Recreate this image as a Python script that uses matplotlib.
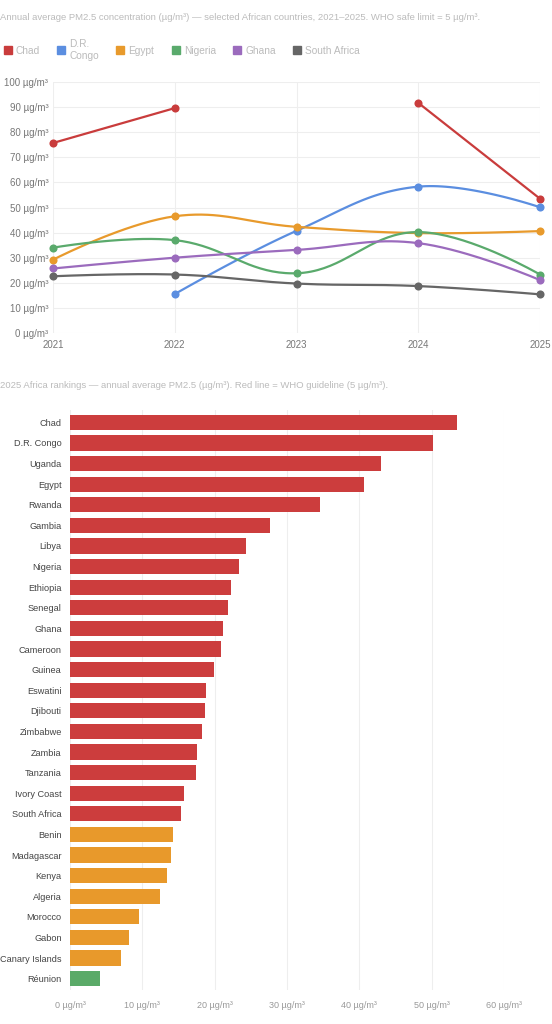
import matplotlib
matplotlib.use("Agg")
import matplotlib.pyplot as plt
import numpy as np
from matplotlib.lines import Line2D

plt.rcParams['font.family'] = ['Liberation Sans', 'DejaVu Sans']

years = [2021, 2022, 2023, 2024, 2025]
series_names = ["Chad", "D.R.\nCongo", "Egypt", "Nigeria", "Ghana", "South Africa"]
chad = [75.7, 89.6, None, 91.7, 53.5]
drc = [None, 15.5, 40.7, 58.3, 50.1]
egypt = [29.2, 46.5, 42.3, 39.8, 40.6]
nigeria = [34.0, 37.0, 23.8, 40.2, 23.3]
ghana = [25.7, 30.0, 33.1, 35.8, 21.1]
south_africa = [22.6, 23.3, 19.7, 18.7, 15.4]
series_colors = ["#c93c3c", "#5b8ee0", "#e89a2c", "#5aaa6c", "#9b6bbd", "#666666"]

countries = ["Chad", "D.R. Congo", "Uganda", "Egypt", "Rwanda", "Gambia", "Libya", "Nigeria",
             "Ethiopia", "Senegal", "Ghana", "Cameroon", "Guinea", "Eswatini", "Djibouti",
             "Zimbabwe", "Zambia", "Tanzania", "Ivory Coast", "South Africa", "Benin",
             "Madagascar", "Kenya", "Algeria", "Morocco", "Gabon", "Canary Islands", "Réunion"]
values_2025 = [53.5, 50.2, 43.0, 40.6, 34.5, 27.7, 24.4, 23.3, 22.3, 21.8, 21.2, 20.9, 19.9,
               18.8, 18.7, 18.3, 17.5, 17.4, 15.7, 15.4, 14.3, 13.9, 13.4, 12.4, 9.5, 8.2, 7.1, 4.2]

RED, ORANGE, GREEN = "#cc3d3d", "#e8992b", "#5aaa68"

def bar_color(v):
    if v > 15:
        return RED
    if v > 5:
        return ORANGE
    return GREEN

W, H = 552, 1024
fig = plt.figure(figsize=(W/100, H/100), dpi=100)
fig.patch.set_facecolor("white")

def ax_rect(l, t, r, b):
    return [l/W, 1-b/H, (r-l)/W, (b-t)/H]

title_c = "#bbbbbb"
tick_c = "#777777"
grid_c = "#eeeeee"

fig.text(0/W, 1-17/H, "Annual average PM2.5 concentration (µg/m³) — selected African countries, 2021–2025. WHO safe limit = 5 µg/m³.",
         fontsize=6.8, color=title_c, va="center", ha="left")

ax = fig.add_axes(ax_rect(53, 82, 540, 333))
xs_scale, ys_scale = 122.0, 2.51

def spline_segments(xv, yv, t=0.4):
    runs, cur = [], []
    for x, y in zip(xv, yv):
        if y is None:
            if cur: runs.append(cur)
            cur = []
        else:
            cur.append((x, y))
    if cur: runs.append(cur)
    out = []
    for run in runs:
        P = np.array([[x*xs_scale, y*ys_scale] for x, y in run], float)
        n = len(P)
        if n == 1:
            out.append(P); continue
        cpb, cpa = P.copy(), P.copy()
        for i in range(1, n-1):
            p0, p1, p2 = P[i-1], P[i], P[i+1]
            d01 = np.hypot(*(p1-p0)); d12 = np.hypot(*(p2-p1))
            s = d01 + d12
            fa, fb = t*d01/s, t*d12/s
            cpb[i] = p1 - fa*(p2-p0)
            cpa[i] = p1 + fb*(p2-p0)
        pts = []
        tt = np.linspace(0, 1, 40)[:, None]
        for i in range(n-1):
            a, b, c, d = P[i], cpa[i], cpb[i+1], P[i+1]
            seg = (1-tt)**3*a + 3*(1-tt)**2*tt*b + 3*(1-tt)*tt**2*c + tt**3*d
            pts.append(seg)
        out.append(np.vstack(pts))
    return [np.column_stack([p[:, 0]/xs_scale, p[:, 1]/ys_scale]) for p in out]

all_series = [chad, drc, egypt, nigeria, ghana, south_africa]
for vals, col in zip(all_series, series_colors):
    for seg in spline_segments(years, vals):
        ax.plot(seg[:, 0], seg[:, 1], color=col, lw=1.6, zorder=3, clip_on=False)
    xv = [x for x, y in zip(years, vals) if y is not None]
    yv = [y for y in vals if y is not None]
    ax.scatter(xv, yv, s=34, color=col, zorder=4, linewidths=0, clip_on=False)

ax.set_xlim(2021, 2025)
ax.set_ylim(0, 100)
ax.set_xticks(years)
ax.set_yticks(range(0, 101, 10))
ax.set_yticklabels([f"{v} µg/m³" for v in range(0, 101, 10)])
ax.grid(True, color=grid_c, lw=0.8)
ax.set_axisbelow(True)
for s in ax.spines.values():
    s.set_visible(False)
ax.tick_params(axis="both", length=0, labelsize=7, colors=tick_c)
ax.tick_params(axis="x", pad=5)

handles = [Line2D([0], [0], marker="s", color="none", markerfacecolor=c, markeredgecolor=c, markersize=6)
           for c in series_colors]
leg = fig.legend(handles, series_names, loc="center left", bbox_to_anchor=(-0.012, 1-50/H), ncol=6,
                 frameon=False, fontsize=7.3, handletextpad=0.3, columnspacing=1.6, handlelength=1.0)
for t in leg.get_texts():
    t.set_color(title_c)

fig.text(0/W, 1-386/H, "2025 Africa rankings — annual average PM2.5 (µg/m³). Red line = WHO guideline (5 µg/m³).",
         fontsize=6.8, color=title_c, va="center", ha="left")

ax2 = fig.add_axes(ax_rect(70, 410, 504, 990))
y = np.arange(len(countries))
ax2.barh(y, values_2025, height=0.74, color=[bar_color(v) for v in values_2025], zorder=3)
ax2.set_ylim(len(countries)-0.45, -0.6)
ax2.set_xlim(0, 60)
ax2.set_yticks(y)
ax2.set_yticklabels(countries)
ax2.set_xticks(range(0, 61, 10))
ax2.set_xticklabels([f"{v} µg/m³" for v in range(0, 61, 10)])
ax2.grid(True, axis="x", color=grid_c, lw=0.8)
ax2.set_axisbelow(True)
for s in ax2.spines.values():
    s.set_visible(False)
ax2.tick_params(axis="y", length=0, labelsize=6.6, colors="#444444", pad=6)
ax2.tick_params(axis="x", length=0, labelsize=6.5, colors="#999999", pad=8)

fig.savefig("out.png", dpi=100)
